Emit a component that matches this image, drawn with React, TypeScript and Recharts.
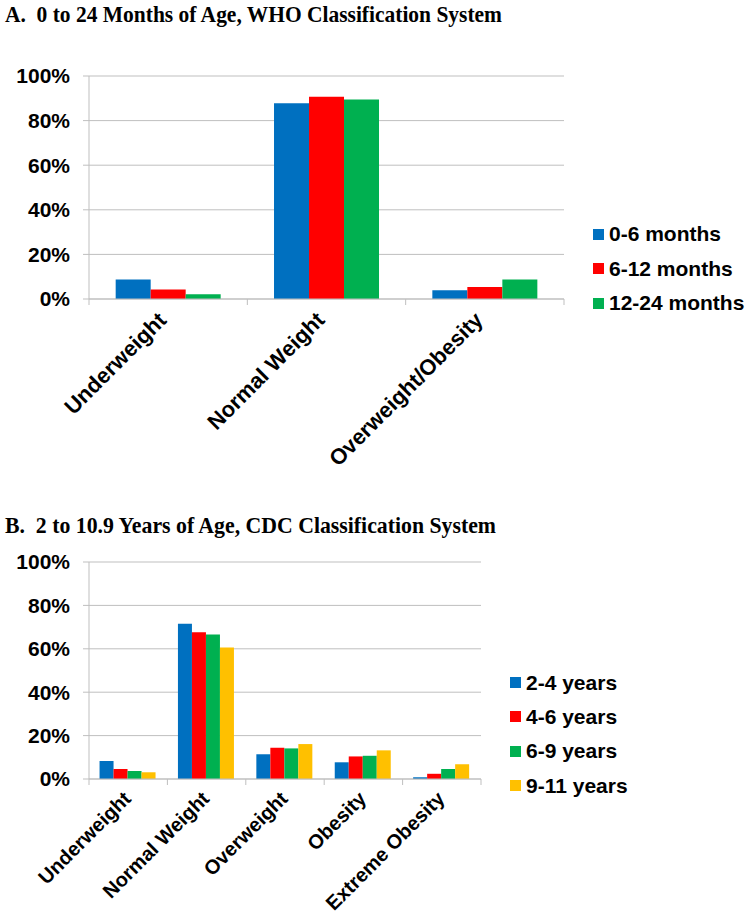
import React from 'react';
import { BarChart, Bar, XAxis, YAxis, CartesianGrid, Legend } from 'recharts';

// ---------- data ----------
const categoriesA = ['Underweight', 'Normal Weight', 'Overweight/Obesity'];
const months0to6 = [0.088, 0.878, 0.039];
const months6to12 = [0.043, 0.907, 0.054];
const months12to24 = [0.021, 0.895, 0.088];
const seriesNamesA = ['0-6 months', '6-12 months', '12-24 months'];

const categoriesB = ['Underweight', 'Normal Weight', 'Overweight', 'Obesity', 'Extreme Obesity'];
const years2to4 = [0.083, 0.716, 0.114, 0.077, 0.008];
const years4to6 = [0.046, 0.676, 0.144, 0.104, 0.024];
const years6to9 = [0.037, 0.666, 0.141, 0.107, 0.046];
const years9to11 = [0.031, 0.606, 0.161, 0.132, 0.068];
const seriesNamesB = ['2-4 years', '4-6 years', '6-9 years', '9-11 years'];

const yTicks = [0, 0.2, 0.4, 0.6, 0.8, 1];
const titleA = 'A.  0 to 24 Months of Age, WHO Classification System';
const titleB = 'B.  2 to 10.9 Years of Age, CDC Classification System';

// ---------- styles ----------
const COLORS = ['#0070C0', '#FF0000', '#00B050', '#FFC000'];
const FONT = '"Liberation Sans", Arial, Helvetica, sans-serif';
const SERIF = '"Liberation Serif", "Times New Roman", serif';
const GRID = '#bfbfbf';

const dataA = categoriesA.map((c, i) => ({ cat: c, s0: months0to6[i], s1: months6to12[i], s2: months12to24[i] }));
const dataB = categoriesB.map((c, i) => ({
  cat: c,
  s0: years2to4[i],
  s1: years4to6[i],
  s2: years6to9[i],
  s3: years9to11[i],
}));

const pct = (v: number) => `${Math.round(v * 100)}%`;

const makeXTick = (fontSize: number, dx: number, dy: number, count: number) => (props: any) => {
  const { x, y, payload, index } = props;
  const axisY = y - 8; // tickSize 6 + tickMargin 2
  const off = payload && payload.offset ? payload.offset : 0;
  const tx = x + dx;
  const ty = axisY + dy;
  return (
    <g>
      <line x1={x - off} x2={x - off} y1={axisY} y2={axisY + 6} stroke={GRID} strokeWidth={1} />
      {index === count - 1 && (
        <line x1={x + off} x2={x + off} y1={axisY} y2={axisY + 6} stroke={GRID} strokeWidth={1} />
      )}
      <text
        x={tx}
        y={ty}
        dy="0.35em"
        transform={`rotate(-45 ${tx} ${ty})`}
        textAnchor="end"
        fontSize={fontSize}
        fontWeight="bold"
        fontFamily={FONT}
        fill="#000"
      >
        {payload.value}
      </text>
    </g>
  );
};

const makeLegend = (names: string[], rowH: number) => () => (
  <div style={{ fontFamily: FONT, fontWeight: 'bold', fontSize: 21, color: '#000' }}>
    {names.map((n, i) => (
      <div key={n} style={{ display: 'flex', alignItems: 'center', height: rowH, whiteSpace: 'nowrap' }}>
        <span style={{ display: 'inline-block', width: 11, height: 11, background: COLORS[i], marginRight: 5 }} />
        <span>{n}</span>
      </div>
    ))}
  </div>
);

const yAxisProps = {
  width: 89,
  domain: [0, 1] as [number, number],
  ticks: yTicks,
  interval: 0 as const,
  tickFormatter: pct,
  axisLine: { stroke: GRID },
  tickLine: { stroke: GRID },
  tickSize: 6,
  tickMargin: 13,
  tick: { fill: '#000', fontSize: 21, fontWeight: 'bold', fontFamily: FONT },
};

export default function App() {
  return (
    <div style={{ position: 'absolute', left: 0, top: 0, width: 751, height: 915, background: '#fff', overflow: 'hidden' }}>
      <svg width={751} height={915} style={{ position: 'absolute', left: 0, top: 0 }}>
        <text x={5} y={21.5} fontFamily={SERIF} fontWeight="bold" fontSize={23.5} textLength={497} lengthAdjust="spacingAndGlyphs" fill="#000" style={{ whiteSpace: 'pre' }}>
          {titleA}
        </text>
        <text x={5} y={533} fontFamily={SERIF} fontWeight="bold" fontSize={23} textLength={491} lengthAdjust="spacingAndGlyphs" fill="#000" style={{ whiteSpace: 'pre' }}>
          {titleB}
        </text>
      </svg>

      <div style={{ position: 'absolute', left: 0, top: 0 }}>
        <BarChart
          width={751}
          height={490}
          data={dataA}
          margin={{ top: 76, right: 187, bottom: 0, left: 0 }}
          barCategoryGap="16.85%"
          barGap={0}
        >
          <CartesianGrid vertical={false} stroke={GRID} />
          <XAxis
            dataKey="cat"
            interval={0}
            height={191}
            tickSize={6}
            tickMargin={2}
            tickLine={false}
            axisLine={{ stroke: GRID }}
            tick={makeXTick(22, -6, 17, categoriesA.length)}
          />
          <YAxis {...yAxisProps} />
          {seriesNamesA.map((n, i) => (
            <Bar key={n} dataKey={`s${i}`} name={n} fill={COLORS[i]} isAnimationActive={false} />
          ))}
          <Legend
            layout="vertical"
            align="center"
            verticalAlign="middle"
            content={makeLegend(seriesNamesA, 34.5)}
            wrapperStyle={{ left: 593, top: 216.75, width: 160 }}
          />
        </BarChart>
      </div>

      <div style={{ position: 'absolute', left: 0, top: 480 }}>
        <BarChart
          width={751}
          height={435}
          data={dataB}
          margin={{ top: 82, right: 270, bottom: 0, left: 0 }}
          barCategoryGap="13.45%"
          barGap={0}
        >
          <CartesianGrid vertical={false} stroke={GRID} />
          <XAxis
            dataKey="cat"
            interval={0}
            height={136}
            tickSize={6}
            tickMargin={2}
            tickLine={false}
            axisLine={{ stroke: GRID }}
            tick={makeXTick(20, -1, 16, categoriesB.length)}
          />
          <YAxis {...yAxisProps} />
          {seriesNamesB.map((n, i) => (
            <Bar key={n} dataKey={`s${i}`} name={n} fill={COLORS[i]} isAnimationActive={false} />
          ))}
          <Legend
            layout="vertical"
            align="center"
            verticalAlign="middle"
            content={makeLegend(seriesNamesB, 34.3)}
            wrapperStyle={{ left: 510, top: 185.5, width: 160 }}
          />
        </BarChart>
      </div>
    </div>
  );
}
